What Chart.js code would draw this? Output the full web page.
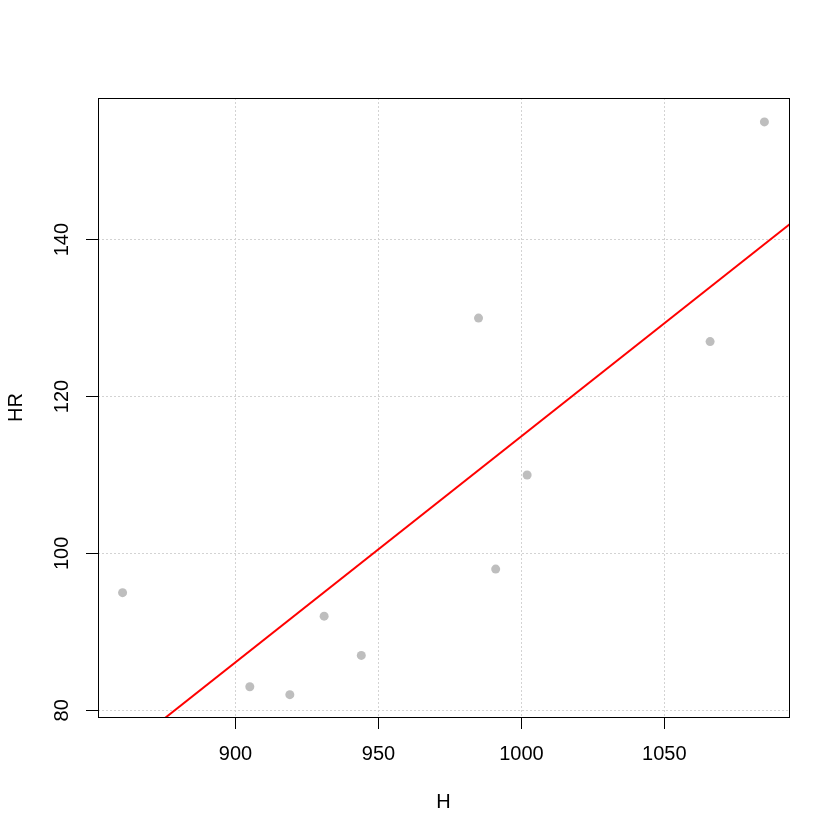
<!DOCTYPE html>
<html>
<head>
<meta charset="utf-8">
<script src="https://cdn.jsdelivr.net/npm/chart.js@4/dist/chart.umd.min.js"></script>
<style>
  html, body { margin: 0; padding: 0; background: #fff; }
</style>
</head>
<body>
<canvas id="myChart" width="840" height="840"></canvas>
<script>
// scatter points
const hValues = [860.5, 905, 919, 931, 944, 985, 991, 1002, 1066, 1085];
const hrValues = [95, 83, 82, 92, 87, 130, 98, 110, 127, 155];

// fitted line, two ends read at the box edges
const fitX = [852, 1094];
const fitY = [72.3, 142.0];

// axis ticks
const xTicks = [900, 950, 1000, 1050];
const yTicks = [80, 100, 120, 140];
const xRange = [851.9, 1093.6];
const yRange = [79.15, 158.05];

const FONT = "'Liberation Sans', Arial, sans-serif";

// draws the black frame round the plot area
const boxPlugin = {
    id: 'box',
    afterDraw(chart) {
        const a = chart.chartArea;
        const ctx = chart.ctx;
        ctx.save();
        ctx.strokeStyle = '#000';
        ctx.lineWidth = 1;
        ctx.strokeRect(Math.round(a.left) + 0.5, Math.round(a.top) + 0.5,
            Math.round(a.right - a.left), Math.round(a.bottom - a.top));
        ctx.restore();
    }
};

const gridOpts = {
    color: '#d3d3d3',
    tickColor: '#000',
    tickBorderDash: [],
    tickLength: 12,
    lineWidth: 1
};
// in v4 the grid line dash lives under border
const borderOpts = { display: false, dash: [2, 2] };

var ctx = document.getElementById('myChart').getContext('2d');
var chart = new Chart(ctx, {
    data: {
        datasets: [{
            type: 'scatter',
            label: 'HR',
            data: hValues.map((h, i) => ({x: h, y: hrValues[i]})),
            backgroundColor: '#bebebe',
            borderWidth: 0,
            pointRadius: 4.5,
            pointHoverRadius: 4.5
        }, {
            type: 'line',
            label: 'fit',
            data: fitX.map((h, i) => ({x: h, y: fitY[i]})),
            borderColor: '#ff0000',
            borderWidth: 2,
            pointRadius: 0,
            fill: false
        }]
    },
    options: {
        responsive: false,
        animation: false,
        events: [],
        layout: { padding: { top: 98, right: 51, left: 0, bottom: 0 } },
        plugins: {
            legend: { display: false },
            tooltip: { enabled: false }
        },
        scales: {
            x: {
                type: 'linear',
                position: 'bottom',
                min: xRange[0],
                max: xRange[1],
                afterBuildTicks: s => { s.ticks = xTicks.map(v => ({value: v})); },
                afterFit: s => { s.height = 123; },
                grid: gridOpts,
                border: borderOpts,
                ticks: {
                    color: '#000',
                    padding: 13,
                    maxRotation: 0,
                    callback: v => String(v),
                    font: { family: FONT, size: 20 }
                },
                title: {
                    display: true,
                    text: 'H',
                    color: '#000',
                    font: { family: FONT, size: 20 },
                    padding: { top: 0, bottom: 26 }
                }
            },
            y: {
                type: 'linear',
                position: 'left',
                min: yRange[0],
                max: yRange[1],
                afterBuildTicks: s => { s.ticks = yTicks.map(v => ({value: v})); },
                afterFit: s => { s.width = 98; },
                grid: gridOpts,
                border: borderOpts,
                ticks: {
                    color: '#000',
                    padding: 7,
                    minRotation: 90,
                    maxRotation: 90,
                    crossAlign: 'center',
                    callback: v => String(v),
                    font: { family: FONT, size: 20 }
                },
                title: {
                    display: true,
                    text: 'HR',
                    color: '#000',
                    font: { family: FONT, size: 20 },
                    padding: { top: 4, bottom: 0 }
                }
            }
        }
    },
    plugins: [boxPlugin]
});
</script>
</body>
</html>
